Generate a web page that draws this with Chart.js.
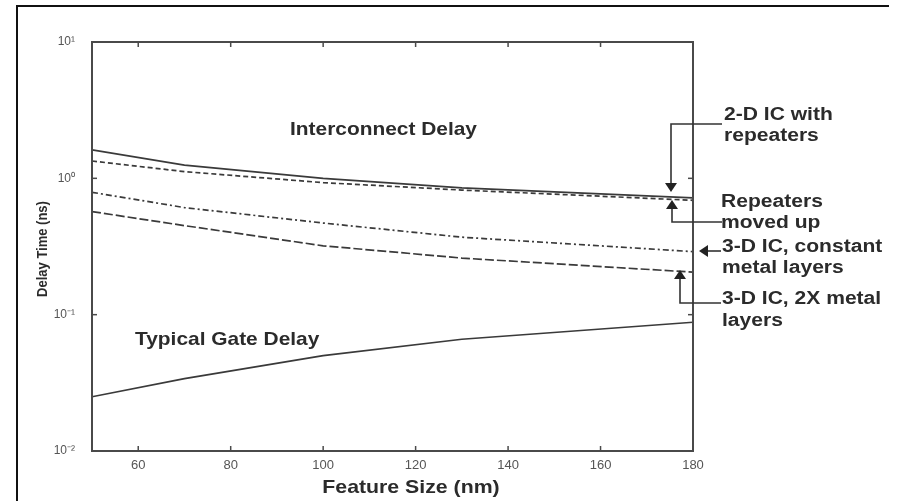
<!DOCTYPE html>
<html>
<head>
<meta charset="utf-8">
<script src="https://cdn.jsdelivr.net/npm/chart.js@4.4.1/dist/chart.umd.min.js"></script>
<style>
  html, body { margin: 0; padding: 0; background: #ffffff; }
  #wrap { width: 901px; height: 501px; position: relative; }
</style>
</head>
<body>
<div id="wrap"><canvas id="c" width="901" height="501"></canvas></div>
<script>
// ---- data ----
const featureSize = [50, 70, 100, 130, 180];              // nm
const twoDRepeaters = [1.62, 1.25, 1.0, 0.85, 0.72];      // 2-D IC with repeaters (ns)
const repeatersMovedUp = [1.34, 1.12, 0.93, 0.82, 0.69];  // Repeaters moved up
const threeDConstant = [0.79, 0.61, 0.47, 0.37, 0.29];    // 3-D IC, constant metal layers
const threeD2X = [0.57, 0.45, 0.32, 0.26, 0.205];         // 3-D IC, 2X metal layers
const gateDelay = [0.025, 0.034, 0.05, 0.066, 0.088];     // Typical gate delay

const xTickValues = [60, 80, 100, 120, 140, 160, 180];
const yTickValues = [0.01, 0.1, 1, 10];
const yTickLabels = ['10\u207B\u00B2', '10\u207B\u00B9', '10\u2070', '10\u00B9'];

const seriesNames = ['2-D IC with repeaters', 'Repeaters moved up', '3-D IC, constant metal layers', '3-D IC, 2X metal layers', 'Typical Gate Delay'];

const pts = arr => featureSize.map((f, i) => ({ x: f, y: arr[i] }));

const LINE = '#3a3a3a';
const FONT = '"Liberation Sans", Arial, sans-serif';

function sText(ctx, str, x, y, px, sx, align, color) {
  ctx.save();
  ctx.translate(x, y);
  ctx.scale(sx, 1);
  ctx.font = 'bold ' + px + 'px ' + FONT;
  ctx.fillStyle = color || '#2b2b2b';
  ctx.textAlign = align || 'left';
  ctx.textBaseline = 'middle';
  ctx.fillText(str, 0, 0);
  ctx.restore();
}
function seg(ctx, pts) {
  ctx.beginPath();
  ctx.moveTo(pts[0][0], pts[0][1]);
  for (let i = 1; i < pts.length; i++) ctx.lineTo(pts[i][0], pts[i][1]);
  ctx.stroke();
}
function head(ctx, tx, ty, dir) {
  const L = 9, W = 6;
  ctx.beginPath();
  ctx.moveTo(tx, ty);
  if (dir === 'down') { ctx.lineTo(tx - W, ty - L); ctx.lineTo(tx + W, ty - L); }
  else if (dir === 'up') { ctx.lineTo(tx - W, ty + L); ctx.lineTo(tx + W, ty + L); }
  else if (dir === 'left') { ctx.lineTo(tx + L, ty - W); ctx.lineTo(tx + L, ty + W); }
  ctx.closePath();
  ctx.fill();
}

const decor = {
  id: 'decor',
  afterDraw(chart) {
    const { ctx, chartArea: a, scales: { x, y } } = chart;
    ctx.save();
    // outer picture border (top & left)
    ctx.strokeStyle = '#111'; ctx.lineWidth = 2;
    seg(ctx, [[17, 501], [17, 6], [889, 6]]);

    // plot box
    ctx.strokeStyle = '#4a4a4a'; ctx.lineWidth = 2;
    ctx.strokeRect(a.left, a.top, a.right - a.left, a.bottom - a.top);
    // inward ticks
    ctx.lineWidth = 1.5;
    x.ticks.forEach(t => {
      const px = x.getPixelForValue(t.value);
      seg(ctx, [[px, a.bottom], [px, a.bottom - 5]]);
      seg(ctx, [[px, a.top], [px, a.top + 5]]);
    });
    y.ticks.forEach(t => {
      const py = y.getPixelForValue(t.value);
      seg(ctx, [[a.left, py], [a.left + 5, py]]);
      seg(ctx, [[a.right, py], [a.right - 5, py]]);
    });

    // axis titles
    sText(ctx, 'Feature Size (nm)', 411, 488, 19, 1.12, 'center', '#2b2b2b');
    ctx.save();
    ctx.translate(43, 249);
    ctx.rotate(-Math.PI / 2);
    ctx.scale(1, 1.12);
    ctx.font = 'bold 13px ' + FONT;
    ctx.fillStyle = '#2b2b2b';
    ctx.textAlign = 'center'; ctx.textBaseline = 'middle';
    ctx.fillText('Delay Time (ns)', 0, 0);
    ctx.restore();

    // region labels
    sText(ctx, 'Interconnect Delay', 290, 130, 19, 1.1, 'left');
    sText(ctx, 'Typical Gate Delay', 135, 340, 19, 1.1, 'left');

    // right-side labels
    const R = 18, SX = 1.17;
    sText(ctx, '2-D IC with', 724, 115, R, SX);
    sText(ctx, 'repeaters', 724, 136, R, SX);
    sText(ctx, 'Repeaters', 721, 202, R, SX);
    sText(ctx, 'moved up', 721, 223, R, SX);
    sText(ctx, '3-D IC, constant', 722, 247, R, SX);
    sText(ctx, 'metal layers', 722, 268, R, SX);
    sText(ctx, '3-D IC, 2X metal', 722, 299, R, SX);
    sText(ctx, 'layers', 722, 321, R, SX);

    // arrows
    ctx.strokeStyle = '#333'; ctx.fillStyle = '#222'; ctx.lineWidth = 1.6;
    seg(ctx, [[722, 124], [671, 124], [671, 184]]);
    head(ctx, 671, 192, 'down');
    seg(ctx, [[722, 222], [672, 222], [672, 208]]);
    head(ctx, 672, 200, 'up');
    seg(ctx, [[721, 251], [707, 251]]);
    head(ctx, 699, 251, 'left');
    seg(ctx, [[721, 303], [680, 303], [680, 278]]);
    head(ctx, 680, 270, 'up');
    ctx.restore();
  }
};

const ds = (label, arr, dash) => ({
  label, data: pts(arr), borderColor: LINE, borderWidth: 1.7, borderDash: dash,
  pointRadius: 0, fill: false, tension: 0
});

new Chart(document.getElementById('c'), {
  type: 'line',
  data: {
    datasets: [
      ds(seriesNames[0], twoDRepeaters, []),
      ds(seriesNames[1], repeatersMovedUp, [5, 3]),
      ds(seriesNames[2], threeDConstant, [6, 3, 2, 3]),
      ds(seriesNames[3], threeD2X, [9, 3]),
      ds(seriesNames[4], gateDelay, [])
    ]
  },
  options: {
    responsive: false,
    animation: false,
    layout: { padding: { top: 42, right: 208, left: 0, bottom: 0 } },
    plugins: { legend: { display: false }, tooltip: { enabled: false } },
    scales: {
      x: {
        type: 'linear', min: 50, max: 180,
        afterBuildTicks: s => { s.ticks = xTickValues.map(v => ({ value: v })); },
        afterFit: s => { s.height = 50; },
        grid: { display: false, drawTicks: false },
        border: { display: false },
        ticks: { padding: 7, color: '#555', font: { family: FONT, size: 13 }, maxRotation: 0,
                 callback: v => String(v) }
      },
      y: {
        type: 'logarithmic', min: 0.01, max: 10,
        afterBuildTicks: s => { s.ticks = yTickValues.map(v => ({ value: v })); },
        afterFit: s => { s.width = 92; },
        grid: { display: false, drawTicks: false },
        border: { display: false },
        ticks: { padding: 17, color: '#555', font: { family: FONT, size: 12 },
                 callback: (v) => { const i = yTickValues.indexOf(v); return i >= 0 ? yTickLabels[i] : ''; } }
      }
    }
  },
  plugins: [decor]
});
</script>
</body>
</html>
